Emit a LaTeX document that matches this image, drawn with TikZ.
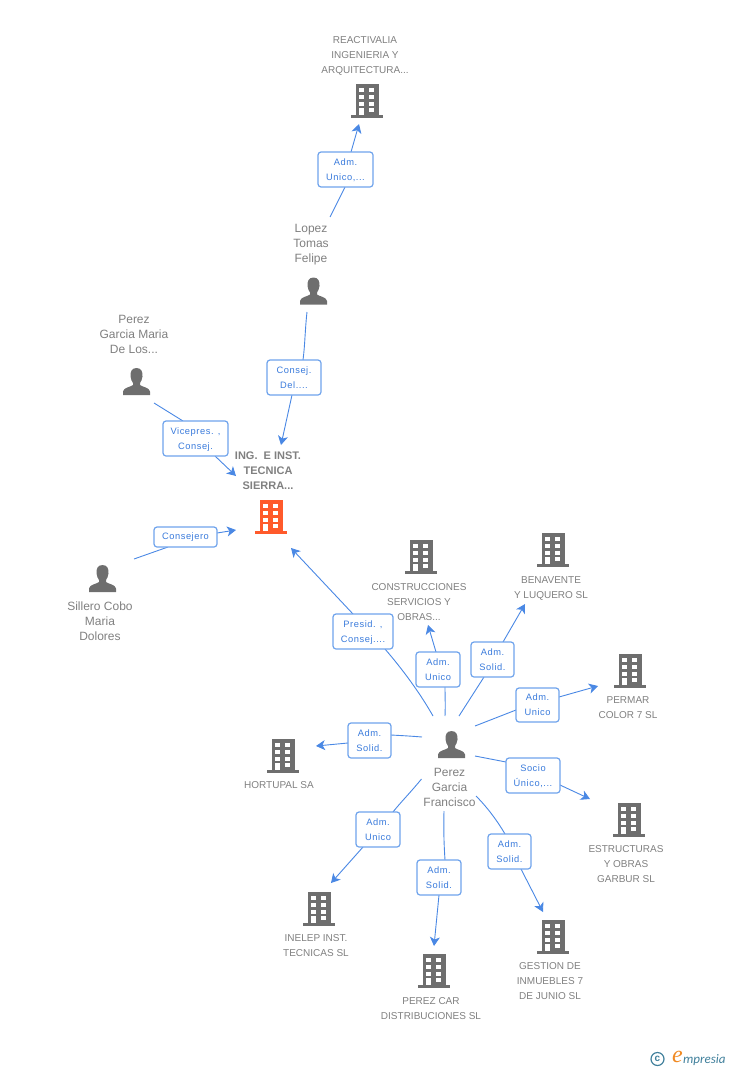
\documentclass[tikz,border=0pt]{standalone}
\usepackage{fontspec}
\setmainfont{Liberation Sans}
\newfontfamily\lblfont[LetterSpace=6]{Liberation Sans}
\newfontfamily\logofont{Carlito}
\newfontfamily\logoefont{Liberation Serif}
\usetikzlibrary{arrows.meta}
\definecolor{linkblue}{HTML}{4A88E4}
\definecolor{boxblue}{HTML}{6FA3EC}
\definecolor{lbltext}{HTML}{3A7BDC}
\definecolor{icongray}{HTML}{6E6E6E}
\definecolor{txtgray}{HTML}{808080}
\definecolor{mainorange}{HTML}{FF5A2B}
\definecolor{logoblue}{HTML}{3F7F9B}
\definecolor{logoorange}{HTML}{F08A24}
\newcommand{\lowstrut}{\rule[-2.5pt]{0pt}{2.5pt}}
\tikzset{
  x=1pt,y=-1pt,
  conn/.style={draw=linkblue,line width=0.9pt},
  arr/.style={conn,-{Stealth[length=9pt,width=10pt,inset=2.5pt]}},
  lbl/.style={draw=boxblue,line width=1.2pt,rounded corners=3pt,fill=white,
     text=lbltext,font=\lblfont\fontsize{9.3}{15}\selectfont,align=center,inner sep=0pt,anchor=center},
  co/.style={text=txtgray,font=\fontsize{10}{15}\selectfont,align=center,inner sep=0pt},
  pe/.style={text=txtgray,font=\fontsize{12}{15}\selectfont,align=center,inner sep=0pt},
  maintxt/.style={text=txtgray,font=\bfseries\fontsize{11}{15}\selectfont,align=center,inner sep=0pt},
  pics/bldg/.style={code={
    \fill[#1] (-11.5,-17) rectangle (11.5,14);
    \fill[#1] (-16,14) rectangle (16,17);
    \fill[white] (-8,7.3) rectangle (-3,14);
    \foreach \r in {-12.7,-6,0.7}{
      \fill[white] (-8,\r) rectangle (-3,\r+4);
      \fill[white] (2,\r) rectangle (7,\r+4);}
    \fill[white] (2,7.3) rectangle (7,11.3);
  }},
  pics/person/.style={code={
    \fill[icongray] (0,-13.5) .. controls (-5,-13.5) and (-6.5,-9) .. (-6,-5)
      .. controls (-5.7,-2) and (-4.5,0) .. (-3.5,1.5) -- (-3.5,3.5)
      .. controls (-6,5.5) and (-13,6) .. (-13.5,10) -- (-13.5,13.5) -- (13.5,13.5) -- (13.5,10)
      .. controls (13,6) and (6,5.5) .. (3.5,3.5) -- (3.5,1.5)
      .. controls (4.5,0) and (5.7,-2) .. (6,-5)
      .. controls (6.5,-9) and (5,-13.5) .. (0,-13.5) -- cycle;
  }}
}
\newcommand{\lblbox}[6]{% name, x0,y0,x1,y1, text
  \node[lbl,minimum width=#4-#2,minimum height=#5-#3,text depth=0pt] (#1) at ({(#2+#4)/2},{(#3+#5)/2}) {};
  \node[text=lbltext,font=\lblfont\fontsize{9.3}{15}\selectfont,align=center,inner sep=0pt] (#1t) at ({(#2+#4)/2},{(#3+#5)/2+1}) {#6\lowstrut};}
\begin{document}
\begin{tikzpicture}
\useasboundingbox (0,0) rectangle (728,1070);
% icons
\coordinate (react) at (367,101); \pic at (react) {bldg=icongray};
\coordinate (main) at (271,517); \pic at (main) {bldg=mainorange};
\coordinate (constr) at (421,557); \pic at (constr) {bldg=icongray};
\coordinate (benav) at (553,550); \pic at (benav) {bldg=icongray};
\coordinate (permar) at (630,671); \pic at (permar) {bldg=icongray};
\coordinate (estruct) at (629,820); \pic at (estruct) {bldg=icongray};
\coordinate (gestion) at (553,937); \pic at (gestion) {bldg=icongray};
\coordinate (perezcar) at (434,971); \pic at (perezcar) {bldg=icongray};
\coordinate (inelep) at (319,909); \pic at (inelep) {bldg=icongray};
\coordinate (hortupal) at (283,756); \pic at (hortupal) {bldg=icongray};
\coordinate (lopez) at (313.5,291); \pic at (lopez) {person};
\coordinate (perezm) at (136.5,381.5); \pic at (perezm) {person};
\coordinate (sillero) at (102.5,578.5); \pic at (sillero) {person};
\coordinate (franc) at (451.5,744.5); \pic at (franc) {person};
% texts
\node[co] (treact) at (365,56) {REACTIVALIA\\INGENIERIA Y\\ARQUITECTURA...};
\node[pe] (tlopez) at (311,245) {Lopez\\Tomas\\Felipe};
\node[pe] (tperezm) at (134,334) {Perez\\Garcia Maria\\De Los...};
\node[maintxt] (tmain) at (268,471) {ING.\ \ E INST.\\TECNICA\\SIERRA...};
\node[pe] (tsillero) at (100,621) {Sillero Cobo\\Maria\\Dolores};
\node[co] (tconstr) at (419,602) {CONSTRUCCIONES\\SERVICIOS Y\\OBRAS...};
\node[co] (tbenav) at (551,588) {BENAVENTE\\Y LUQUERO SL};
\node[co] (tpermar) at (628,708) {PERMAR\\COLOR 7 SL};
\node[co] (thort) at (279,785) {HORTUPAL SA};
\node[pe] (tfranc) at (449.5,787) {Perez\\Garcia\\Francisco};
\node[co] (testruct) at (626,864) {ESTRUCTURAS\\Y OBRAS\\GARBUR SL};
\node[co] (tgestion) at (550,981) {GESTION DE\\INMUEBLES 7\\DE JUNIO SL};
\node[co] (tperezcar) at (431,1009) {PEREZ CAR\\DISTRIBUCIONES SL};
\node[co] (tinelep) at (316,946) {INELEP INST.\\TECNICAS SL};
% connector free ends
\foreach \n/\x/\y in {
  a1/330/217, a2/359/124,
  b1/307/312, b2/281/445,
  c1/154/403, c2/236/476,
  d1/134/559, d2/236/530,
  e1/433/716, e2/291/548,
  f1/445/716, f2/428/625,
  g1/459/716, g2/525/604,
  h1/475/726, h2/598/686,
  i1/422/737, i2/316/746,
  j1/475/756, j2/590/799,
  k1/421.5/779, k2/331/883,
  l1/444/811, l2/434/946,
  m1/476/796, m2/543/912}{\coordinate (\n) at (\x,\y);}
% connectors (drawn below the label boxes)
\draw[conn] (a1) -- (345,187);
\draw[arr] (351,152) -- (a2);
\draw[conn] (b1) .. controls (305,330) and (305,345) .. (303,360);
\draw[arr] (292,395) -- (b2);
\draw[conn] (c1) -- (183,421);
\draw[arr] (215,456) -- (c2);
\draw[conn] (d1) -- (168,547);
\draw[arr] (217,533) -- (d2);
\draw[conn] (e1) .. controls (420,693) and (403,670) .. (385,649);
\draw[arr] (353,614) -- (e2);
\draw[conn] (f1) .. controls (445.5,705) and (445,696) .. (445,687);
\draw[arr] (436,652) -- (f2);
\draw[conn] (g1) -- (484,677);
\draw[arr] (503,642) -- (g2);
\draw[conn] (h1) -- (516,710);
\draw[arr] (559,697) -- (h2);
\draw[conn] (i1) .. controls (410,736) and (400,735.5) .. (391,735);
\draw[arr] (348,743) -- (i2);
\draw[conn] (j1) -- (506,762);
\draw[arr] (560,785) -- (j2);
\draw[conn] (k1) .. controls (410,793) and (400,803) .. (393,812);
\draw[arr] (363,847) -- (k2);
\draw[conn] (l1) .. controls (443.5,830) and (444,845) .. (445,860);
\draw[arr] (439,895) -- (l2);
\draw[conn] (m1) .. controls (488,808) and (498,822) .. (505,834);
\draw[arr] (521,869) -- (m2);
% labels
\lblbox{la}{318}{152}{373}{187}{Adm.\\Unico,...}
\lblbox{lb}{267}{360}{321}{395}{Consej.\\Del....}
\lblbox{lc}{163}{421}{228}{456}{Vicepres. ,\\Consej.}
\node[lbl,minimum width=63,minimum height=20] (ld) at (185.5,537) {Consejero};
\lblbox{le}{333}{614}{393}{649}{Presid. ,\\Consej....}
\lblbox{lf}{416}{652}{460}{687}{Adm.\\Unico}
\lblbox{lg}{471}{642}{514}{677}{Adm.\\Solid.}
\lblbox{lh}{516}{688}{559}{722}{Adm.\\Unico}
\lblbox{li}{348}{723}{391}{758}{Adm.\\Solid.}
\lblbox{lj}{506}{758}{560}{793}{Socio\\Único,...}
\lblbox{lk}{356}{812}{400}{847}{Adm.\\Unico}
\lblbox{ll}{417}{860}{461}{895}{Adm.\\Solid.}
\lblbox{lm}{488}{834}{531}{869}{Adm.\\Solid.}
% logo
\node[draw=logoblue,line width=1.2pt,circle,inner sep=0pt,minimum size=13pt,text=logoblue,font=\bfseries\fontsize{10}{10}\selectfont] (lc1) at (657.5,1059) {c};
\node[text=logoorange,font=\logoefont\itshape\fontsize{24}{24}\selectfont,inner sep=0pt] (le1) at (677.5,1057) {e};
\node[text=logoblue,font=\logofont\itshape\fontsize{13}{13}\selectfont,inner sep=0pt,anchor=west] (lw) at (683,1060) {mpresia};
\end{tikzpicture}
\end{document}
